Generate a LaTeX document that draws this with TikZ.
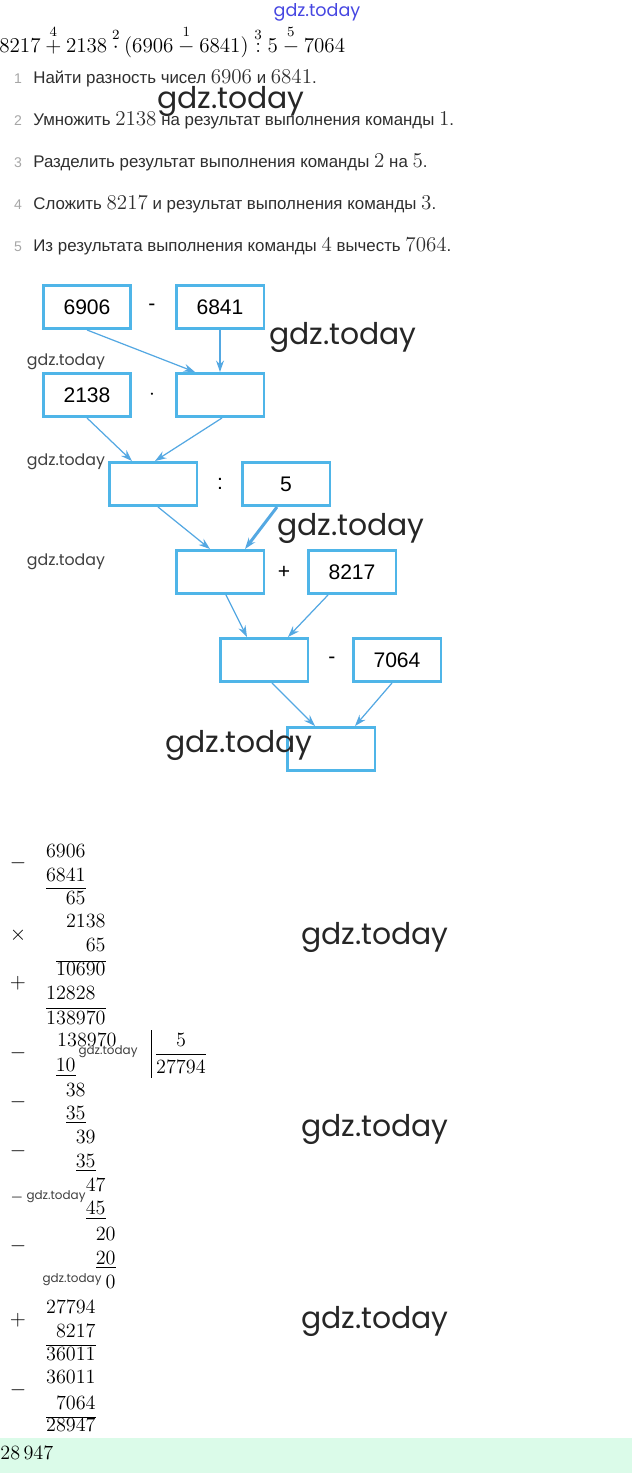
\documentclass[tikz,border=0pt]{standalone}
\usepackage{xcolor}
\usepackage{amsmath}
\usepackage{fontspec}
\usepackage{tikz}
\usetikzlibrary{arrows.meta}
\newfontfamily\rufont{Liberation Sans}
\newfontfamily\wmfont{Poppins}
\definecolor{boxblue}{RGB}{79,181,232}
\definecolor{linkblue}{RGB}{84,168,226}
\definecolor{mint}{RGB}{219,251,233}
\definecolor{wmblue}{RGB}{70,70,225}
\newcommand\lmnum[1]{{\fontsize{11.5}{13}\selectfont$#1$}}

\begin{document}
\begin{tikzpicture}[x=.02cm, y=-.02cm,
    box/.style={draw=boxblue, line width=1.7pt, minimum width=1.76cm, minimum height=.86cm, inner sep=0pt, font=\rufont\fontsize{12}{14}\selectfont},
    op/.style={inner sep=0pt, font=\rufont\fontsize{12}{14}\selectfont},
    link/.style={draw=linkblue, line width=.7pt, -{Stealth[length=6.5pt,width=4.5pt]}},
    task/.style={anchor=base west, inner sep=0pt, text=black!82, font=\rufont\fontsize{9.6}{11}\selectfont},
    tasknum/.style={anchor=base, inner sep=0pt, text=black!35, font=\rufont\fontsize{8}{10}\selectfont},
    col/.style={anchor=base east, inner sep=0pt, font=\fontsize{11.5}{13}\selectfont},
    sign/.style={inner sep=0pt, font=\fontsize{11.5}{13}\selectfont},
    rule/.style={line width=.45pt},
    wm/.style={inner sep=0pt, text=black!85, font=\wmfont\fontsize{17}{20}\selectfont},
    wmsmall/.style={inner sep=0pt, text=black!75, font=\wmfont\fontsize{9}{11}\selectfont},
    wmtiny/.style={inner sep=0pt, text=black!75, font=\wmfont\fontsize{6.8}{8}\selectfont}]
    \useasboundingbox (0,0) rectangle (632,1473);

    % expression and commands
    \node[wmsmall, text=wmblue, font=\wmfont\fontsize{10}{12}\selectfont] (wmtop) at (317,12) {gdz.today};
    \node[anchor=base west, inner sep=0pt, font=\fontsize{11.7}{13}\selectfont] (expr) at (-1,53)
        {$8217\overset{4}{+}2138\overset{2}{\cdot}(6906\overset{1}{-}6841)\overset{3}{:}5\overset{5}{-}7064$};

    \node[tasknum] (t1n) at (18,84) {1};
    \node[task] (t1) at (33,84) {Найти разность чисел \lmnum{6906} и \lmnum{6841}.};
    \node[tasknum] (t2n) at (18,126) {2};
    \node[task] (t2) at (33,126) {Умножить \lmnum{2138} на результат выполнения команды \lmnum{1}.};
    \node[tasknum] (t3n) at (18,168) {3};
    \node[task] (t3) at (33,168) {Разделить результат выполнения команды \lmnum{2} на \lmnum{5}.};
    \node[tasknum] (t4n) at (18,210) {4};
    \node[task] (t4) at (33,210) {Сложить \lmnum{8217} и результат выполнения команды \lmnum{3}.};
    \node[tasknum] (t5n) at (18,252) {5};
    \node[task] (t5) at (33,252) {Из результата выполнения команды \lmnum{4} вычесть \lmnum{7064}.};
    \node[wm] (wm1) at (231,101) {gdz.today};

    % boxes
    \node[box] (n6906) at (87,307) {6906};
    \node[op] (o1) at (152,307) {-};
    \node[box] (n6841) at (220,307) {6841};
    \node[box] (n2138) at (87,395) {2138};
    \node[op] (o2) at (152,395) {$\cdot$};
    \node[box] (r1) at (220,395) {};
    \node[box] (r2) at (153,484) {};
    \node[op] (o3) at (220,484) {:};
    \node[box] (n5) at (286,484) {5};
    \node[box] (r3) at (220,572) {};
    \node[op] (o4) at (284,572) {+};
    \node[box] (n8217) at (352,572) {8217};
    \node[box] (r4) at (264,660) {};
    \node[op] (o5) at (332,660) {-};
    \node[box] (n7064) at (397,660) {7064};
    \node[box] (r5) at (331,749) {};

    \draw[link] (n6906.south) -- ([xshift=-.5cm]r1.north);
    \draw[link] (n6841.south) -- (r1.north);
    \draw[link] (n2138.south) -- ([xshift=-.42cm]r2.north);
    \draw[link] ([xshift=.04cm]r1.south) -- ([xshift=.04cm]r2.north);
    \draw[link] ([xshift=.1cm]r2.south) -- ([xshift=-.2cm]r3.north);
    \draw[link, line width=1.7pt] ([xshift=-.18cm]n5.south) -- ([xshift=.5cm]r3.north);
    \draw[link] ([xshift=.12cm]r3.south) -- ([xshift=-.34cm]r4.north);
    \draw[link] ([xshift=-.48cm]n8217.south) -- ([xshift=.48cm]r4.north);
    \draw[link] ([xshift=.16cm]r4.south) -- ([xshift=-.32cm]r5.north);
    \draw[link] ([xshift=-.1cm]n7064.south) -- ([xshift=.48cm]r5.north);

    \node[wm] (wm2) at (343,337) {gdz.today};
    \node[wmsmall] (wm3) at (66,362) {gdz.today};
    \node[wmsmall] (wm4) at (66,462) {gdz.today};
    \node[wm] (wm5) at (351,528) {gdz.today};
    \node[wmsmall] (wm6) at (66,562) {gdz.today};
    \node[wm] (wm7) at (239,745) {gdz.today};

    % columns
    \node[col] (a1) at (86,857) {6906};
    \node[sign] (a1s) at (18,863) {$-$};
    \node[col] (a2) at (86,881) {6841};
    \draw[rule] (46,888) -- (86,888);
    \node[col] (a3) at (86,904) {65};

    \node[col] (b1) at (106,927) {2138};
    \node[sign] (b1s) at (18,935) {$\times$};
    \node[col] (b2) at (106,951) {65};
    \draw[rule] (56,961) -- (106,961);
    \node[col] (b3) at (106,975) {10690};
    \node[sign] (b3s) at (18,983) {$+$};
    \node[col] (b4) at (96,999) {12828};
    \draw[rule] (46,1008) -- (106,1008);
    \node[col] (b5) at (106,1024) {138970};
    \node[wm] (wm8) at (375,937) {gdz.today};

    \node[col] (c1) at (117,1046) {138970};
    \node[sign] (c1s) at (18,1053) {$-$};
    \node[col] (c2) at (76,1071) {10};
    \draw[rule] (56,1075) -- (76,1075);
    \node[wmtiny] (wm9) at (108,1052) {gdz.today};
    \draw[rule] (151,1030) -- (151,1078);
    \node[anchor=base, inner sep=0pt, font=\fontsize{11.5}{13}\selectfont] (q1) at (181,1046) {5};
    \draw[rule] (156,1054) -- (206,1054);
    \node[col] (q2) at (206,1073) {27794};
    \node[col] (c3) at (86,1096) {38};
    \node[sign] (c3s) at (18,1102) {$-$};
    \node[col] (c4) at (86,1119) {35};
    \draw[rule] (66,1122) -- (86,1122);
    \node[col] (c5) at (96,1143) {39};
    \node[sign] (c5s) at (18,1151) {$-$};
    \node[col] (c6) at (96,1167) {35};
    \draw[rule] (76,1170) -- (96,1170);
    \node[col] (c7) at (106,1191) {47};
    \node[sign, font=\fontsize{9}{11}\selectfont] (c7s) at (17,1198) {$-$};
    \node[wmtiny] (wm10) at (56,1197) {gdz.today};
    \node[col] (c8) at (106,1214) {45};
    \draw[rule] (86,1218) -- (106,1218);
    \node[col] (c9) at (116,1240) {20};
    \node[sign] (c9s) at (18,1246) {$-$};
    \node[col] (c10) at (116,1264) {20};
    \draw[rule] (96,1267) -- (116,1267);
    \node[col] (c11) at (116,1288) {0};
    \node[wmtiny] (wm11) at (72,1280) {gdz.today};
    \node[wm] (wm12) at (375,1129) {gdz.today};

    \node[col] (d1) at (96,1313) {27794};
    \node[sign] (d1s) at (18,1320) {$+$};
    \node[col] (d2) at (96,1337) {8217};
    \draw[rule] (46,1345) -- (96,1345);
    \node[col] (d3) at (96,1360) {36011};
    \node[col] (e1) at (96,1383) {36011};
    \node[sign] (e1s) at (18,1390) {$-$};
    \node[col] (e2) at (96,1409) {7064};
    \draw[rule] (46,1417) -- (96,1417);
    \node[col] (e3) at (96,1431) {28947};
    \node[wm] (wm13) at (375,1321) {gdz.today};

    % answer
    \fill[mint] (0,1438) rectangle (632,1473);
    \node[anchor=base west, inner sep=0pt, font=\fontsize{11.5}{13}\selectfont] (ans) at (0,1459) {28\,947};
\end{tikzpicture}
\end{document}
